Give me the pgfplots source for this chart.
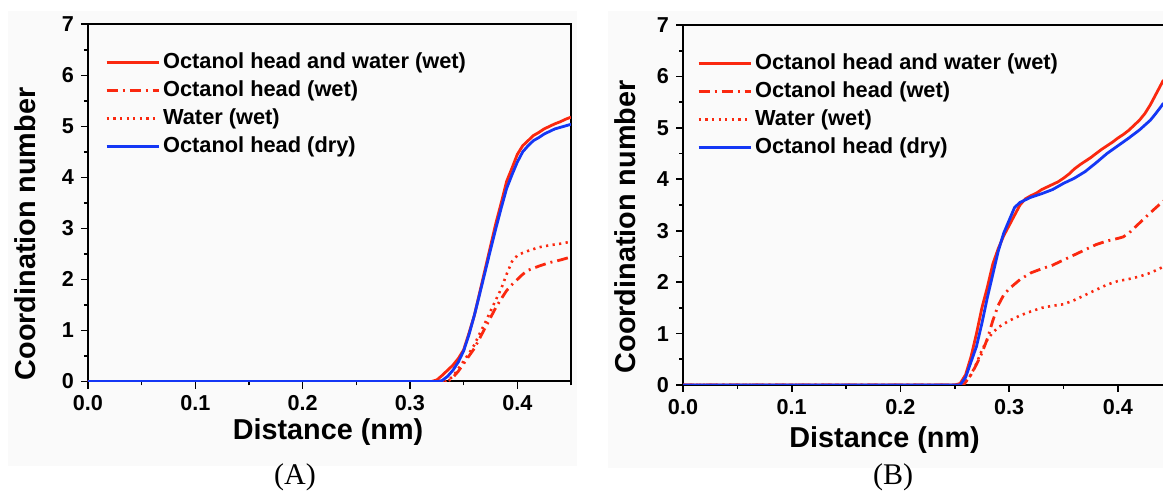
\documentclass[border=0pt]{standalone}
\usepackage{fontspec}
\setmainfont{Liberation Serif}
\setsansfont{Liberation Sans}
\usepackage{pgfplots}
\pgfplotsset{compat=1.18}

\definecolor{cred}{RGB}{250,40,15}
\definecolor{cblue}{RGB}{20,55,245}
\definecolor{bg}{RGB}{250,250,250}

\pgfplotsset{
  cnstyle/.style={
    scale only axis,
    anchor=south west,
    xmin=0, ymin=0, ymax=7,
    xtick={0,0.1,0.2,0.3,0.4},
    minor xtick={0.05,0.15,0.25,0.35,0.45},
    ytick={0,1,2,3,4,5,6,7},
    minor ytick={0.5,1.5,2.5,3.5,4.5,5.5,6.5},
    tick align=outside, xtick pos=bottom, ytick pos=left,
    major tick length=3.5pt, minor tick length=2pt,
    every tick/.style={black, line width=0.8pt},
    axis line style={line width=1pt},
    xticklabel style={/pgf/number format/fixed, /pgf/number format/fixed zerofill, /pgf/number format/precision=1},
    /pgf/number format/assume math mode=true,
    ticklabel style={font=\sffamily\bfseries\fontsize{10.8}{12}\selectfont},
    label style={font=\sffamily\bfseries\fontsize{14.4}{16}\selectfont},
    xlabel={Distance (nm)}, ylabel={Coordination number},
    legend cell align=left,
    legend image code/.code={\draw[#1] (0pt,0pt) -- (26pt,0pt);},
    legend style={draw=none, fill=none, anchor=north west, inner sep=0pt,
      row sep=1.6pt, font=\sffamily\bfseries\fontsize{10.9}{12}\selectfont,
      nodes={inner sep=1.5pt}},
  },
  s1/.style={cred, line width=1.4pt},
  s2/.style={cred, line width=1.4pt, dash pattern=on 5.5pt off 2.5pt on 1pt off 2.5pt},
  s3/.style={cred, line width=1.3pt, dash pattern=on 1.1pt off 2.2pt},
  s4/.style={cblue, line width=1.4pt},
}

\begin{document}
\begin{tikzpicture}[x=1pt,y=1pt]
\path[use as bounding box] (0,0) rectangle (581.5,246.5);
\fill[bg] (4,13.5) rectangle (288.5,241);
\fill[bg] (304,12.5) rectangle (581.5,241);

% (A)
\begin{axis}[cnstyle, at={(44pt,55.75pt)}, width=241.5pt, height=178.6pt, xmax=0.45,
  xlabel style={at={(axis description cs:0.497,-0.141)}, anchor=center},
  ylabel style={at={(axis description cs:-0.13,0.413)}, anchor=center},
  legend style={at={(axis description cs:0.035,0.929)}}]
\addplot[s1] coordinates {(0,0) (0.32,0) (0.325,0.03) (0.33,0.12) (0.335,0.22) (0.34,0.32) (0.345,0.45) (0.35,0.62) (0.355,0.95) (0.36,1.3) (0.365,1.75) (0.37,2.2) (0.375,2.65) (0.38,3.1) (0.385,3.5) (0.39,3.92) (0.395,4.18) (0.40,4.45) (0.405,4.62) (0.41,4.72) (0.415,4.82) (0.42,4.88) (0.425,4.95) (0.43,5.0) (0.435,5.05) (0.44,5.09) (0.445,5.14) (0.45,5.18)};
\addlegendentry{Octanol head and water (wet)}
\addplot[s2] coordinates {(0,0) (0.335,0) (0.34,0.08) (0.345,0.2) (0.35,0.35) (0.355,0.5) (0.36,0.65) (0.365,0.85) (0.37,1.05) (0.375,1.25) (0.38,1.45) (0.385,1.62) (0.39,1.78) (0.395,1.9) (0.40,2.0) (0.405,2.1) (0.41,2.18) (0.415,2.22) (0.42,2.26) (0.43,2.33) (0.44,2.38) (0.45,2.44)};
\addlegendentry{Octanol head (wet)}
\addplot[s3] coordinates {(0,0) (0.333,0) (0.337,0.05) (0.34,0.1) (0.345,0.25) (0.35,0.4) (0.355,0.55) (0.36,0.72) (0.365,0.94) (0.37,1.15) (0.375,1.38) (0.38,1.6) (0.385,1.82) (0.39,2.1) (0.395,2.35) (0.40,2.47) (0.405,2.52) (0.41,2.56) (0.42,2.63) (0.43,2.67) (0.44,2.7) (0.45,2.74)};
\addlegendentry{Water (wet)}
\addplot[s4] coordinates {(0,0) (0.326,0) (0.33,0.02) (0.335,0.1) (0.34,0.22) (0.345,0.38) (0.35,0.6) (0.355,0.92) (0.36,1.3) (0.365,1.72) (0.37,2.15) (0.375,2.58) (0.38,3.0) (0.385,3.4) (0.39,3.78) (0.395,4.05) (0.40,4.3) (0.405,4.5) (0.41,4.62) (0.415,4.72) (0.42,4.78) (0.425,4.85) (0.43,4.9) (0.435,4.95) (0.44,4.98) (0.445,5.01) (0.45,5.04)};
\addlegendentry{Octanol head (dry)}
\end{axis}

% (B)
\begin{axis}[cnstyle, at={(341.5pt,54pt)}, width=240pt, height=180pt, xmax=0.4416,
  axis x line*=box, axis y line*=left, y axis line style={-},
  xlabel style={at={(axis description cs:0.42,-0.153)}, anchor=center},
  ylabel style={at={(axis description cs:-0.121,0.439)}, anchor=center},
  legend style={at={(axis description cs:0.029,0.929)}}]
\addplot[s1] coordinates {(0,0) (0.25,0) (0.255,0.03) (0.26,0.2) (0.265,0.55) (0.27,1.0) (0.275,1.5) (0.28,1.9) (0.285,2.35) (0.29,2.65) (0.295,2.9) (0.30,3.1) (0.305,3.3) (0.31,3.5) (0.315,3.62) (0.32,3.68) (0.325,3.73) (0.33,3.8) (0.335,3.85) (0.34,3.9) (0.345,3.95) (0.35,4.02) (0.355,4.1) (0.36,4.2) (0.365,4.28) (0.37,4.35) (0.375,4.42) (0.38,4.5) (0.385,4.58) (0.39,4.65) (0.395,4.72) (0.40,4.8) (0.405,4.87) (0.41,4.95) (0.415,5.05) (0.42,5.15) (0.425,5.28) (0.43,5.45) (0.435,5.65) (0.44,5.85) (0.442,5.93)};
\addlegendentry{Octanol head and water (wet)}
\addplot[s2] coordinates {(0,0) (0.258,0) (0.265,0.2) (0.27,0.4) (0.275,0.62) (0.28,0.9) (0.285,1.25) (0.29,1.55) (0.295,1.75) (0.30,1.87) (0.31,2.05) (0.32,2.18) (0.33,2.26) (0.34,2.33) (0.35,2.43) (0.36,2.53) (0.37,2.63) (0.38,2.73) (0.39,2.8) (0.40,2.85) (0.405,2.88) (0.41,2.95) (0.415,3.05) (0.42,3.15) (0.43,3.35) (0.442,3.58)};
\addlegendentry{Octanol head (wet)}
\addplot[s3] coordinates {(0,0) (0.258,0) (0.265,0.2) (0.27,0.42) (0.275,0.68) (0.28,0.88) (0.285,1.02) (0.29,1.12) (0.30,1.25) (0.31,1.35) (0.32,1.43) (0.33,1.5) (0.34,1.54) (0.35,1.57) (0.36,1.65) (0.37,1.75) (0.38,1.85) (0.39,1.95) (0.40,2.02) (0.41,2.06) (0.42,2.11) (0.43,2.18) (0.442,2.3)};
\addlegendentry{Water (wet)}
\addplot[s4] coordinates {(0,0) (0.255,0) (0.26,0.15) (0.265,0.45) (0.27,0.75) (0.275,1.2) (0.28,1.7) (0.285,2.15) (0.29,2.6) (0.295,2.95) (0.30,3.2) (0.305,3.45) (0.31,3.55) (0.315,3.6) (0.32,3.65) (0.33,3.72) (0.34,3.8) (0.35,3.92) (0.36,4.02) (0.37,4.15) (0.38,4.32) (0.39,4.5) (0.40,4.65) (0.41,4.8) (0.42,4.96) (0.43,5.15) (0.435,5.28) (0.44,5.42) (0.442,5.48)};
\addlegendentry{Octanol head (dry)}
\end{axis}

\node[font=\fontsize{15}{18}\selectfont] at (147.5,8) {(A)};
\node[font=\fontsize{15}{18}\selectfont] at (446.5,8) {(B)};
\end{tikzpicture}
\end{document}
